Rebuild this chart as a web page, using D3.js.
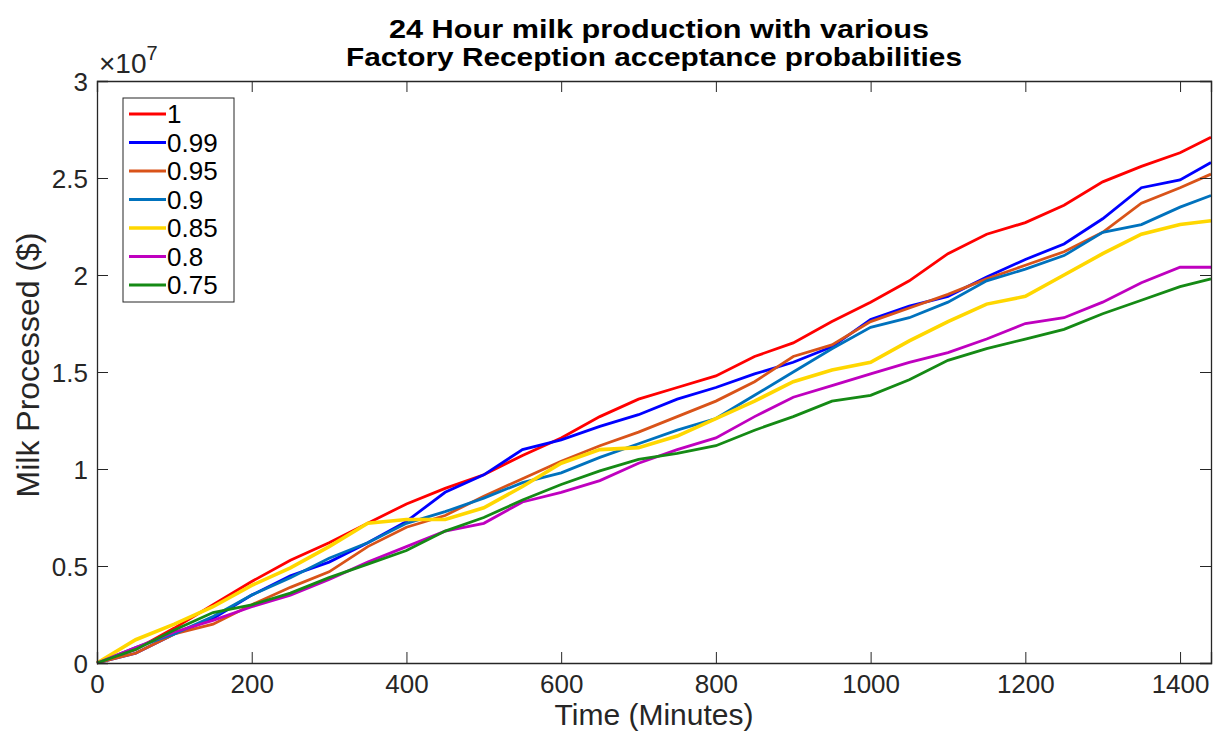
<!DOCTYPE html>
<html>
<head>
<meta charset="utf-8">
<script src="https://cdn.jsdelivr.net/npm/d3@7"></script>
<style>
  body { margin: 0; background: #fff; }
  svg { font-family: "Liberation Sans", Arial, Helvetica, sans-serif; }
</style>
</head>
<body>
<svg id="chart"></svg>
<script>
// Chart data (values in units of 1e7)
const minutes = [0, 50, 100, 150, 200, 250, 300, 350, 400, 450, 500, 550, 600, 650, 700,
                 750, 800, 850, 900, 950, 1000, 1050, 1100, 1150, 1200, 1250, 1300, 1350, 1400, 1440];

const seriesNames = ["1", "0.99", "0.95", "0.9", "0.85", "0.8", "0.75"];

const p100 = [0, 0.07, 0.18, 0.30, 0.42, 0.53, 0.62, 0.72, 0.82, 0.90, 0.97, 1.07, 1.16, 1.27, 1.36,
              1.42, 1.48, 1.58, 1.65, 1.76, 1.86, 1.97, 2.11, 2.21, 2.27, 2.36, 2.48, 2.56, 2.63, 2.71];
const p099 = [0, 0.05, 0.15, 0.23, 0.35, 0.45, 0.52, 0.62, 0.73, 0.88, 0.97, 1.10, 1.15, 1.22, 1.28,
              1.36, 1.42, 1.49, 1.55, 1.63, 1.77, 1.84, 1.89, 1.99, 2.08, 2.16, 2.29, 2.45, 2.49, 2.58];
const p095 = [0, 0.05, 0.15, 0.20, 0.30, 0.39, 0.47, 0.60, 0.70, 0.76, 0.86, 0.95, 1.04, 1.12, 1.19,
              1.27, 1.35, 1.45, 1.58, 1.64, 1.76, 1.83, 1.90, 1.98, 2.05, 2.12, 2.22, 2.37, 2.45, 2.52];
const p090 = [0, 0.08, 0.15, 0.24, 0.35, 0.44, 0.54, 0.62, 0.72, 0.78, 0.85, 0.93, 0.98, 1.06, 1.13,
              1.20, 1.26, 1.38, 1.50, 1.62, 1.73, 1.78, 1.86, 1.97, 2.03, 2.10, 2.22, 2.26, 2.35, 2.41];
const p085 = [0, 0.12, 0.20, 0.29, 0.40, 0.49, 0.60, 0.72, 0.74, 0.74, 0.80, 0.91, 1.03, 1.10, 1.11,
              1.17, 1.26, 1.35, 1.45, 1.51, 1.55, 1.66, 1.76, 1.85, 1.89, 2.00, 2.11, 2.21, 2.26, 2.28];
const p080 = [0, 0.08, 0.16, 0.22, 0.29, 0.35, 0.43, 0.52, 0.60, 0.68, 0.72, 0.83, 0.88, 0.94, 1.03,
              1.10, 1.16, 1.27, 1.37, 1.43, 1.49, 1.55, 1.60, 1.67, 1.75, 1.78, 1.86, 1.96, 2.04, 2.04];
const p075 = [0, 0.07, 0.17, 0.26, 0.30, 0.36, 0.44, 0.51, 0.58, 0.68, 0.75, 0.84, 0.92, 0.99, 1.05,
              1.08, 1.12, 1.20, 1.27, 1.35, 1.38, 1.46, 1.56, 1.62, 1.67, 1.72, 1.80, 1.87, 1.94, 1.98];

const seriesValues = [p100, p099, p095, p090, p085, p080, p075];
const seriesColors = ["#FF0000", "#0000FF", "#D95319", "#0072BD", "#FFD700", "#BF00BF", "#158A15"];

const xTicks = [0, 200, 400, 600, 800, 1000, 1200, 1400];
const yTicks = [0, 0.5, 1, 1.5, 2, 2.5, 3];

// Layout
const svgWidth = 1215;
const svgHeight = 733;
const margin = { top: 81, right: 4, bottom: 70, left: 97 };
const width = svgWidth - margin.left - margin.right;
const height = svgHeight - margin.top - margin.bottom;
const axisColor = "#262626";

const svg = d3.select("#chart")
    .attr("width", svgWidth)
    .attr("height", svgHeight);

const g = svg.append("g")
    .attr("transform", `translate(${margin.left},${margin.top})`);

const x = d3.scaleLinear().domain([0, 1440]).range([0, width]);
const y = d3.scaleLinear().domain([0, 3]).range([height, 0]);

// Lines
const line = d3.line()
    .x(d => x(d[0]))
    .y(d => y(d[1]));

seriesValues.forEach((vals, i) => {
    g.append("path")
        .datum(minutes.map((t, j) => [t, vals[j]]))
        .attr("fill", "none")
        .attr("stroke", seriesColors[i])
        .attr("stroke-width", i === 4 ? 3.6 : 2.8)
        .attr("d", line);
});

// Axes with inward ticks on all four sides (MATLAB box style)
const tickLen = 11;
const bottomAxis = g.append("g")
    .attr("transform", `translate(0,${height})`)
    .call(d3.axisBottom(x).tickValues(xTicks).tickSize(-tickLen).tickPadding(11)
        .tickFormat(d => String(d)));
const topAxis = g.append("g")
    .call(d3.axisTop(x).tickValues(xTicks).tickSize(-tickLen).tickFormat(""));
const leftAxis = g.append("g")
    .call(d3.axisLeft(y).tickValues(yTicks).tickSize(-tickLen).tickPadding(9)
        .tickFormat(d => String(d)));
const rightAxis = g.append("g")
    .attr("transform", `translate(${width},0)`)
    .call(d3.axisRight(y).tickValues(yTicks).tickSize(-tickLen).tickFormat(""));

[bottomAxis, topAxis, leftAxis, rightAxis].forEach(a => {
    a.select(".domain").attr("stroke", axisColor).attr("stroke-width", 1.3);
    a.selectAll(".tick line").attr("stroke", axisColor).attr("stroke-width", 1);
    a.selectAll("text")
        .attr("fill", axisColor)
        .style("font-size", "26px")
        .style("font-family", "'Liberation Sans', Arial, sans-serif");
});
bottomAxis.selectAll("text").attr("dy", "0.72em");
leftAxis.selectAll("text").attr("dy", "0.36em");

// Exponent label
const expo = svg.append("text")
    .attr("x", margin.left + 2)
    .attr("y", 73)
    .attr("fill", axisColor)
    .style("font-size", "28px");
expo.append("tspan").text("\u00D710");
expo.append("tspan").attr("dy", -13).style("font-size", "20px").text("7");

// Title
const title = svg.append("text")
    .attr("text-anchor", "middle")
    .attr("fill", "#000")
    .style("font-size", "26px")
    .style("font-weight", "bold");
title.append("tspan").attr("x", 659).attr("y", 38)
    .attr("textLength", 540).attr("lengthAdjust", "spacingAndGlyphs")
    .text("24 Hour milk production with various");
title.append("tspan").attr("x", 654).attr("y", 66)
    .attr("textLength", 616).attr("lengthAdjust", "spacingAndGlyphs")
    .text("Factory Reception acceptance probabilities");

// Axis labels
svg.append("text")
    .attr("x", 654)
    .attr("y", 725)
    .attr("text-anchor", "middle")
    .attr("fill", axisColor)
    .style("font-size", "30px")
    .text("Time (Minutes)");

svg.append("text")
    .attr("transform", `translate(39,365) rotate(-90)`)
    .attr("text-anchor", "middle")
    .attr("fill", axisColor)
    .style("font-size", "32px")
    .text("Milk Processed ($)");

// Legend
const legend = svg.append("g").attr("transform", "translate(123,98)");
legend.append("rect")
    .attr("width", 111)
    .attr("height", 204)
    .attr("fill", "#fff")
    .attr("stroke", axisColor)
    .attr("stroke-width", 1);

seriesNames.forEach((name, i) => {
    const row = legend.append("g").attr("transform", `translate(0,${16 + i * 28.5})`);
    row.append("line")
        .attr("x1", 6).attr("x2", 43)
        .attr("stroke", seriesColors[i])
        .attr("stroke-width", i === 4 ? 3.6 : 2.8);
    row.append("text")
        .attr("x", 44)
        .attr("dy", "0.36em")
        .attr("fill", "#000")
        .style("font-size", "26px")
        .text(name);
});
</script>
</body>
</html>
